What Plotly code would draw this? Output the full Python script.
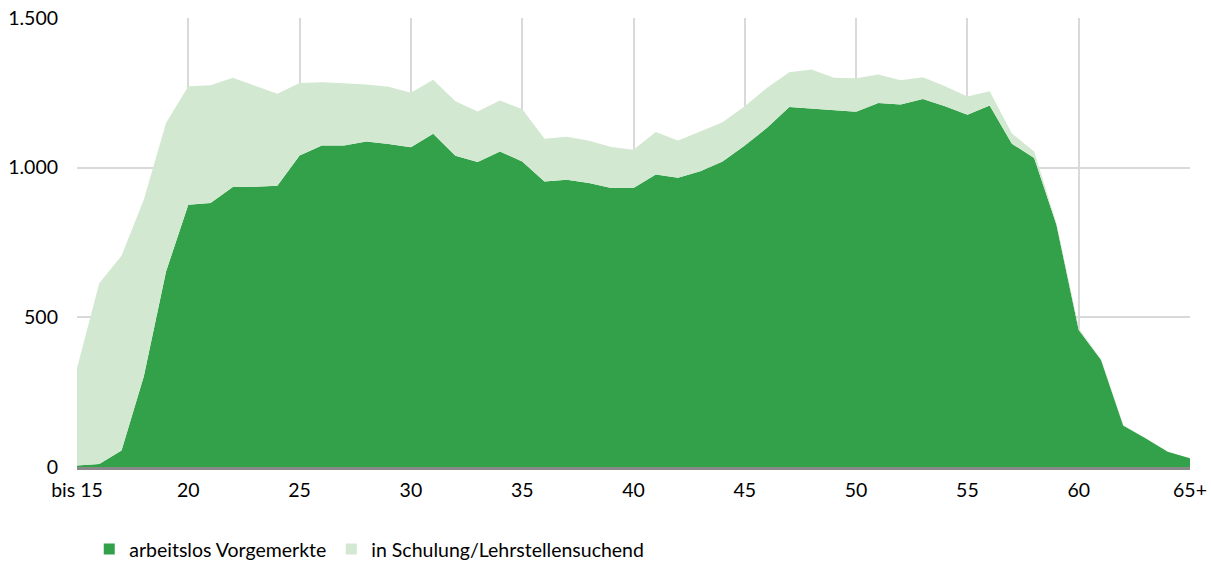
import plotly.graph_objects as go

# Age groups
categories = ["bis 15"] + [str(a) for a in range(16, 65)] + ["65+"]

# Registered unemployed
arbeitslos = [5, 10, 55, 302, 653, 876, 882, 935, 936, 940,
              1041, 1074, 1074, 1087, 1079, 1068, 1113, 1040, 1019, 1054,
              1021, 954, 960, 949, 932, 932, 977, 966, 988, 1021,
              1074, 1133, 1203, 1197, 1192, 1187, 1216, 1211, 1229, 1205,
              1177, 1208, 1080, 1032, 809, 458, 358, 139, 96, 51, 29]

# In training / seeking apprenticeship
schulung = [325, 604, 651, 591, 496, 396, 393, 365, 338, 307,
            242, 211, 208, 191, 191, 182, 181, 182, 169, 170,
            175, 143, 143, 141, 137, 128, 142, 125, 133, 131,
            131, 134, 116, 131, 108, 112, 95, 81, 73, 67,
            61, 47, 34, 22, 6, 6, 2, 1, 0, 0, 0]

tick_labels = ["bis 15", "20", "25", "30", "35", "40", "45", "50", "55", "60", "65+"]
y_ticks = [0, 500, 1000, 1500]

DARK = "#33a14a"
LIGHT = "#d3e8d1"
FONT = "Lato"
FSIZE = 19.5

fig = go.Figure()
fig.add_trace(go.Scatter(
    x=categories, y=arbeitslos, name="arbeitslos Vorgemerkte",
    stackgroup="one", mode="lines", line=dict(width=0, color=DARK),
    fillcolor=DARK, showlegend=False, hoverinfo="x+y"))
fig.add_trace(go.Scatter(
    x=categories, y=schulung, name="in Schulung/Lehrstellensuchend",
    stackgroup="one", mode="lines", line=dict(width=0, color=LIGHT),
    fillcolor=LIGHT, showlegend=False, hoverinfo="x+y"))

# Legend entries with square swatches
for name, col in [("arbeitslos Vorgemerkte", DARK),
                  ("in Schulung/Lehrstellensuchend", LIGHT)]:
    fig.add_trace(go.Scatter(
        x=[None], y=[None], mode="markers", name=name,
        marker=dict(symbol="square", size=11, color=col)))

fig.update_layout(
    width=1211, height=562,
    margin=dict(l=77, r=21, t=18, b=95, autoexpand=False),
    paper_bgcolor="white", plot_bgcolor="white",
    separators=",.",
    font=dict(family=FONT, size=FSIZE, color="#000000"),
    showlegend=True,
    legend=dict(orientation="h", x=0.011, xanchor="left", y=-0.14,
                yanchor="top", itemwidth=30, tracegroupgap=0,
                traceorder="normal",
                font=dict(family=FONT, size=FSIZE, color="#000000")),
)

fig.update_xaxes(
    type="category", range=[0, len(categories) - 1],
    tickmode="array", tickvals=tick_labels, ticktext=tick_labels,
    showgrid=True, gridcolor="#d9d9d9", gridwidth=2,
    showline=True, linecolor="#898989", linewidth=3,
    ticks="", zeroline=False, ticklabelstandoff=4,
)
fig.update_yaxes(
    range=[0, 1500], tickvals=y_ticks, tickformat=",d",
    showgrid=True, gridcolor="#d9d9d9", gridwidth=2,
    showline=False, zeroline=False, ticks="", ticklabelstandoff=18,
)

fig.write_html("out.html")
